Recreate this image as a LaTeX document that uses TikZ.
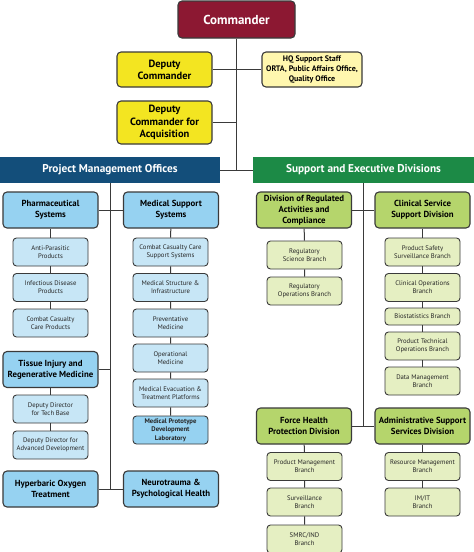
\documentclass[tikz,border=0pt]{standalone}
\usepackage{fontspec}
\setmainfont{PT Sans}
\definecolor{cmdred}{HTML}{8C1832}
\definecolor{depyel}{HTML}{F3E521}
\definecolor{hqyel}{HTML}{FFF7AE}
\definecolor{pmoblue}{HTML}{134E7A}
\definecolor{sedgreen}{HTML}{1C8A46}
\definecolor{bigblue}{HTML}{96D2F1}
\definecolor{subblue}{HTML}{C7E6F6}
\definecolor{biggreen}{HTML}{B5D56C}
\definecolor{subgreen}{HTML}{E5EFC2}
\definecolor{edgegray}{HTML}{3A3A3A}

\begin{document}
\begin{tikzpicture}[x=1pt, y=-1pt,
  box/.style={draw=edgegray, line width=1.1pt, rounded corners=4pt, align=center, inner sep=1pt},
  topbox/.style={box, fill=depyel, minimum width=95pt, font=\fontsize{10.5}{12.3}\selectfont\bfseries},
  hqbox/.style={box, fill=hqyel, minimum width=100pt, minimum height=35pt, font=\fontsize{8}{10}\selectfont\bfseries},
  bar/.style={minimum height=26pt, text=white, font=\fontsize{11.3}{13}\selectfont\bfseries, inner sep=0pt},
  bigbox/.style={box, minimum width=95pt, minimum height=36pt, font=\fontsize{8.8}{11}\selectfont\bfseries},
  subbox/.style={box, line width=0.9pt, rounded corners=3.5pt, minimum width=75pt, minimum height=28pt, font=\fontsize{6.7}{8.3}\selectfont, text=black!85},
  bigb/.style={bigbox, fill=bigblue},
  subb/.style={subbox, fill=subblue},
  bigg/.style={bigbox, fill=biggreen},
  subg/.style={subbox, fill=subgreen},
  wire/.style={draw=edgegray, line width=1pt}]
\fill[white] (0,0) rectangle (474,552);
\useasboundingbox (0,0) rectangle (474,552);

\node[box, fill=cmdred, text=white, minimum width=117pt, minimum height=37pt, font=\fontsize{13}{15}\selectfont\bfseries] (cmd) at (236.5,19.5) {Commander};
\node[topbox, minimum height=35pt] (dep) at (164.5,69.5) {Deputy\\Commander};
\node[hqbox] (hq) at (312,69.5) {HQ Support Staff\\ORTA, Public Affairs Office,\\Quality Office};
\node[topbox, minimum height=43pt] (acq) at (164.5,122.5) {Deputy\\Commander for\\Acquisition};
\node[bar, fill=pmoblue, minimum width=220pt] (pmo) at (110,170) {Project Management Offices};
\node[bar, fill=sedgreen, minimum width=221pt] (sed) at (363.5,170) {Support and Executive Divisions};

\node[bigb] (pharm) at (50.5,210) {Pharmaceutical\\Systems};
\node[subb] (antip) at (50.5,252) {Anti-Parasitic\\Products};
\node[subb] (infect) at (50.5,287.5) {Infectious Disease\\Products};
\node[subb] (ccprod) at (50.5,323) {Combat Casualty\\Care Products};
\node[bigb] (tissue) at (50.5,369.5) {Tissue Injury and\\Regenerative Medicine};
\node[subb] (ddtech) at (50.5,409) {Deputy Director\\for Tech Base};
\node[subb] (ddadv) at (50.5,445) {Deputy Director for\\Advanced Development};
\node[bigb] (hyper) at (50.5,489) {Hyperbaric Oxygen\\Treatment};

\node[bigb] (medsup) at (171,210) {Medical Support\\Systems};
\node[subb] (ccsup) at (170.5,252) {Combat Casualty Care\\Support Systems};
\node[subb] (medstr) at (170.5,287.5) {Medical Structure \&\\Infrastructure};
\node[subb] (prev) at (170.5,323) {Preventative\\Medicine};
\node[subb] (opmed) at (170.5,358) {Operational\\Medicine};
\node[subb] (medevac) at (170.5,393) {Medical Evacuation \&\\Treatment Platforms};
\node[subb, fill=bigblue, font=\fontsize{6.7}{8.3}\selectfont\bfseries] (proto) at (170.5,430) {Medical Prototype\\Development\\Laboratory};
\node[bigb] (neuro) at (171,489) {Neurotrauma \&\\Psychological Health};

\node[bigg] (drac) at (304,210) {Division of Regulated\\Activities and\\Compliance};
\node[subg] (regsci) at (304.5,255) {Regulatory\\Science Branch};
\node[subg] (regops) at (304.5,291) {Regulatory\\Operations Branch};
\node[bigg] (fhp) at (304,426) {Force Health\\Protection Division};
\node[subg] (prodmgmt) at (304.5,466.5) {Product Management\\Branch};
\node[subg] (surv) at (304.5,502) {Surveillance\\Branch};
\node[subg] (smrc) at (304.5,539) {SMRC/IND\\Branch};

\node[bigg] (clinsvc) at (422.5,210) {Clinical Service\\Support Division};
\node[subg] (prodsafe) at (422.5,252) {Product Safety\\Surveillance Branch};
\node[subg] (clinops) at (422.5,287.5) {Clinical Operations\\Branch};
\node[subg, minimum height=17pt] (biostat) at (422.5,316.5) {Biostatistics Branch};
\node[subg] (prodtech) at (422.5,346) {Product Technical\\Operations Branch};
\node[subg] (datamgmt) at (422.5,381) {Data Management\\Branch};
\node[bigg] (admin) at (422.5,426) {Administrative Support\\Services Division};
\node[subg] (resmgmt) at (422.5,466.5) {Resource Management\\Branch};
\node[subg] (imit) at (422.5,502) {IM/IT\\Branch};

\path[wire] (cmd.south) -- (cmd.south |- pmo.east);
\path[wire] (pmo.east) -- (sed.west);
\path[wire] (dep.east) -- (hq.west);
\path[wire] (acq.east) -- (acq.east -| cmd.south);

\path[wire] (pmo.south) -- (pmo.south |- hyper.east);
\path[wire] (pharm.east) -- (medsup.west);
\path[wire] (tissue.east) -- (tissue.east -| pmo.south);
\path[wire] (hyper.east) -- (neuro.west);
\path[wire] (pharm) -- (antip) -- (infect) -- (ccprod);
\path[wire] (tissue) -- (ddtech) -- (ddadv);
\path[wire] (medsup) -- (ccsup) -- (medstr) -- (prev) -- (opmed) -- (medevac) -- (proto);

\path[wire] (sed.south) -- (sed.south |- fhp.east);
\path[wire] (drac.east) -- (clinsvc.west);
\path[wire] (fhp.east) -- (admin.west);
\path[wire] (drac) -- (regsci) -- (regops);
\path[wire] (clinsvc) -- (prodsafe) -- (clinops) -- (biostat) -- (prodtech) -- (datamgmt);
\path[wire] (fhp) -- (prodmgmt) -- (surv) -- (smrc);
\path[wire] (admin) -- (resmgmt) -- (imit);
\end{tikzpicture}
\end{document}
